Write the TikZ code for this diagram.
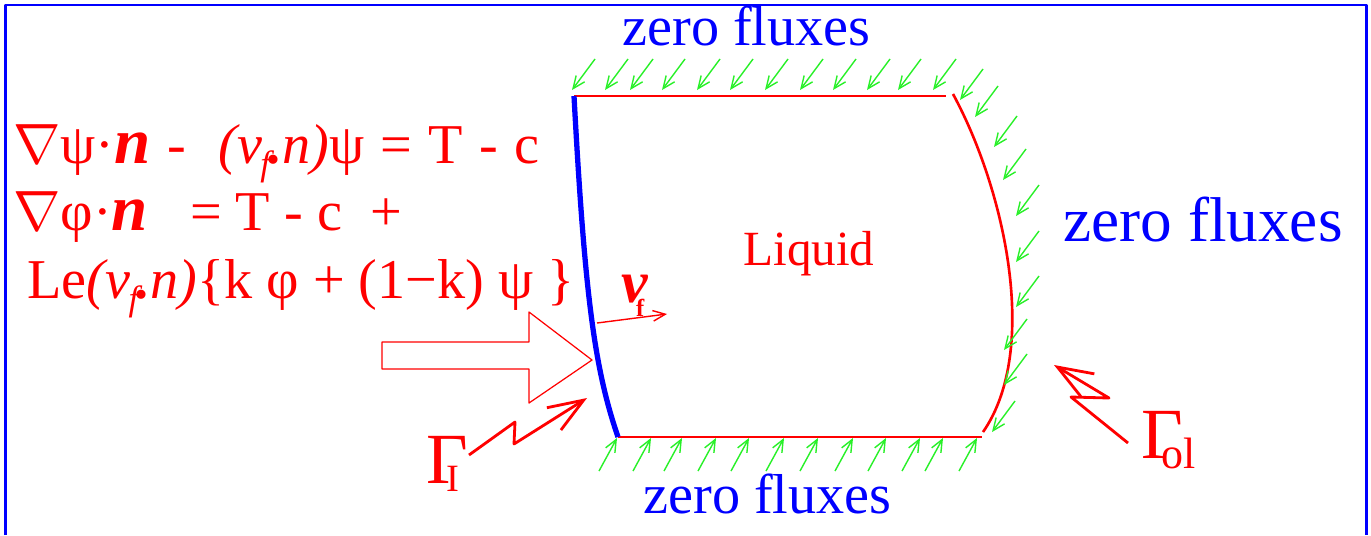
\documentclass[tikz,border=0pt]{standalone}
\usepackage{fontspec}
\setmainfont{Liberation Serif}
\usetikzlibrary{arrows.meta}
\definecolor{fluxgreen}{RGB}{40,240,40}
\definecolor{rimblue}{RGB}{0,0,255}
\definecolor{bcred}{RGB}{255,0,0}
\newcommand{\eqsize}{\fontsize{32}{36}\selectfont}
\newcommand{\grad}{\scalebox{1.3}{$\nabla$}}
\newcommand{\bign}{{\fontsize{37}{40}\selectfont\bfseries\itshape n}}
\newcommand{\vfn}{\textit{(v\kern-1pt\raisebox{-7pt}{\fontsize{20}{20}\selectfont f}\kern-1pt\textbf{.}n)}}
\begin{document}
\begin{tikzpicture}[x=0.02cm, y=-0.02cm, line join=round,
    >={Straight Barb[length=7pt,width=6pt]},
    flux/.style={fluxgreen, line width=0.8pt, ->},
    wall/.style={bcred, line width=1.1pt},
    bolt/.style={bcred, line width=1.6pt, -{Straight Barb[length=20pt,width=15pt]}},
    eqn/.style={bcred, anchor=base west, inner sep=0pt, font=\eqsize},
    bctext/.style={rimblue, anchor=base west, inner sep=0pt}]
  \useasboundingbox (0,0) rectangle (1371,535);
  \path
  (574,96) coordinate (I1)
  (618,437) coordinate (I2)
  (946,96) coordinate (T2)
  (953,94) coordinate (O1)
  (983,432) coordinate (O2)
  (982,437) coordinate (B2)
  (597,323) coordinate (vf1)
  (667,314) coordinate (vf2)
  ;
  % frame
  \draw[rimblue, line width=1.7pt] (5.5,535) -- (5.5,5) -- (1366.5,5) -- (1366.5,535);

  % liquid region
  \draw[wall] (I1) -- (T2);
  \draw[wall] (I2) -- (B2);
  \draw[bcred, line width=1.5pt] (O1) .. controls (1005,190) and (1040,350) .. (O2);
  \draw[rimblue, line width=3pt] (I1) .. controls (585,300) and (595,370) .. (I2);

  % zero fluxes
  \foreach \x/\y in {572/90, 605/90, 630/90, 662/90, 697/90, 730/90, 765/90, 800/90,
      833/90, 867/90, 898/90, 933/90, 960/100, 975/117, 994/147, 1003/180, 1016/216,
      1016/262, 1016/307, 1004/350, 1004/385, 992/432}{
    \draw[flux] ({\x+23},{\y-31}) -- (\x,\y);
  }
  \foreach \x in {617, 651, 682, 716, 749, 784, 818, 853, 886, 920, 943, 977}{
    \draw[flux] ({\x-18},471) -- (\x,438);
  }

  % front motion
  \draw[bcred, line width=0.7pt] (382,342) -- (529,342) -- (529,312) -- (592,360)
    -- (529,403) -- (529,369) -- (382,369) -- cycle;
  \draw[bcred, line width=0.8pt, ->] (vf1) -- (vf2);
  \node[bcred, anchor=base west, inner sep=0pt, font=\fontsize{34}{36}\selectfont] (vf) at (621,302)
    {\textbf{\textit{v}}\kern-7pt\raisebox{-8pt}{\fontsize{14}{14}\selectfont\bfseries f}};

  % boundary names
  \draw[bolt] (469,455) -- (515,422) -- (514,444) -- (587,398);
  \draw[bolt] (1128,443) -- (1071,397) -- (1109,398) -- (1054,365);
  \node[bcred, anchor=base west, inner sep=0pt, font=\fontsize{41}{44}\selectfont] (gI) at (426,483)
    {Γ\kern-12pt\raisebox{-5pt}{\fontsize{22}{22}\selectfont I}};
  \node[bcred, anchor=base west, inner sep=0pt, font=\fontsize{41}{44}\selectfont] (gol) at (1141,458)
    {Γ\kern-12pt\raisebox{-6pt}{\fontsize{25}{25}\selectfont ol}};

  % texts
  \node[bctext, font=\fontsize{32}{36}\selectfont] (ztop) at (622,45) {zero fluxes};
  \node[bctext, font=\fontsize{36}{40}\selectfont] (zright) at (1063,241) {zero fluxes};
  \node[bctext, font=\fontsize{32}{36}\selectfont] (zbot) at (643,513) {zero fluxes};
  \node[eqn, font=\fontsize{28}{32}\selectfont] (liq) at (743,265) {Liquid};
  \node[eqn] (eq1) at (13,163) {\spaceskip=0.29em \grad ψ·\bign\ -\ \ \vfn ψ = T - c};
  \node[eqn] (eq2) at (13,230) {\grad φ·\bign\ \ \ = T - c\ \ +};
  \node[eqn] (eq3) at (27,298) {Le\vfn\{k φ + (1−k) ψ \}};
\end{tikzpicture}
\end{document}
